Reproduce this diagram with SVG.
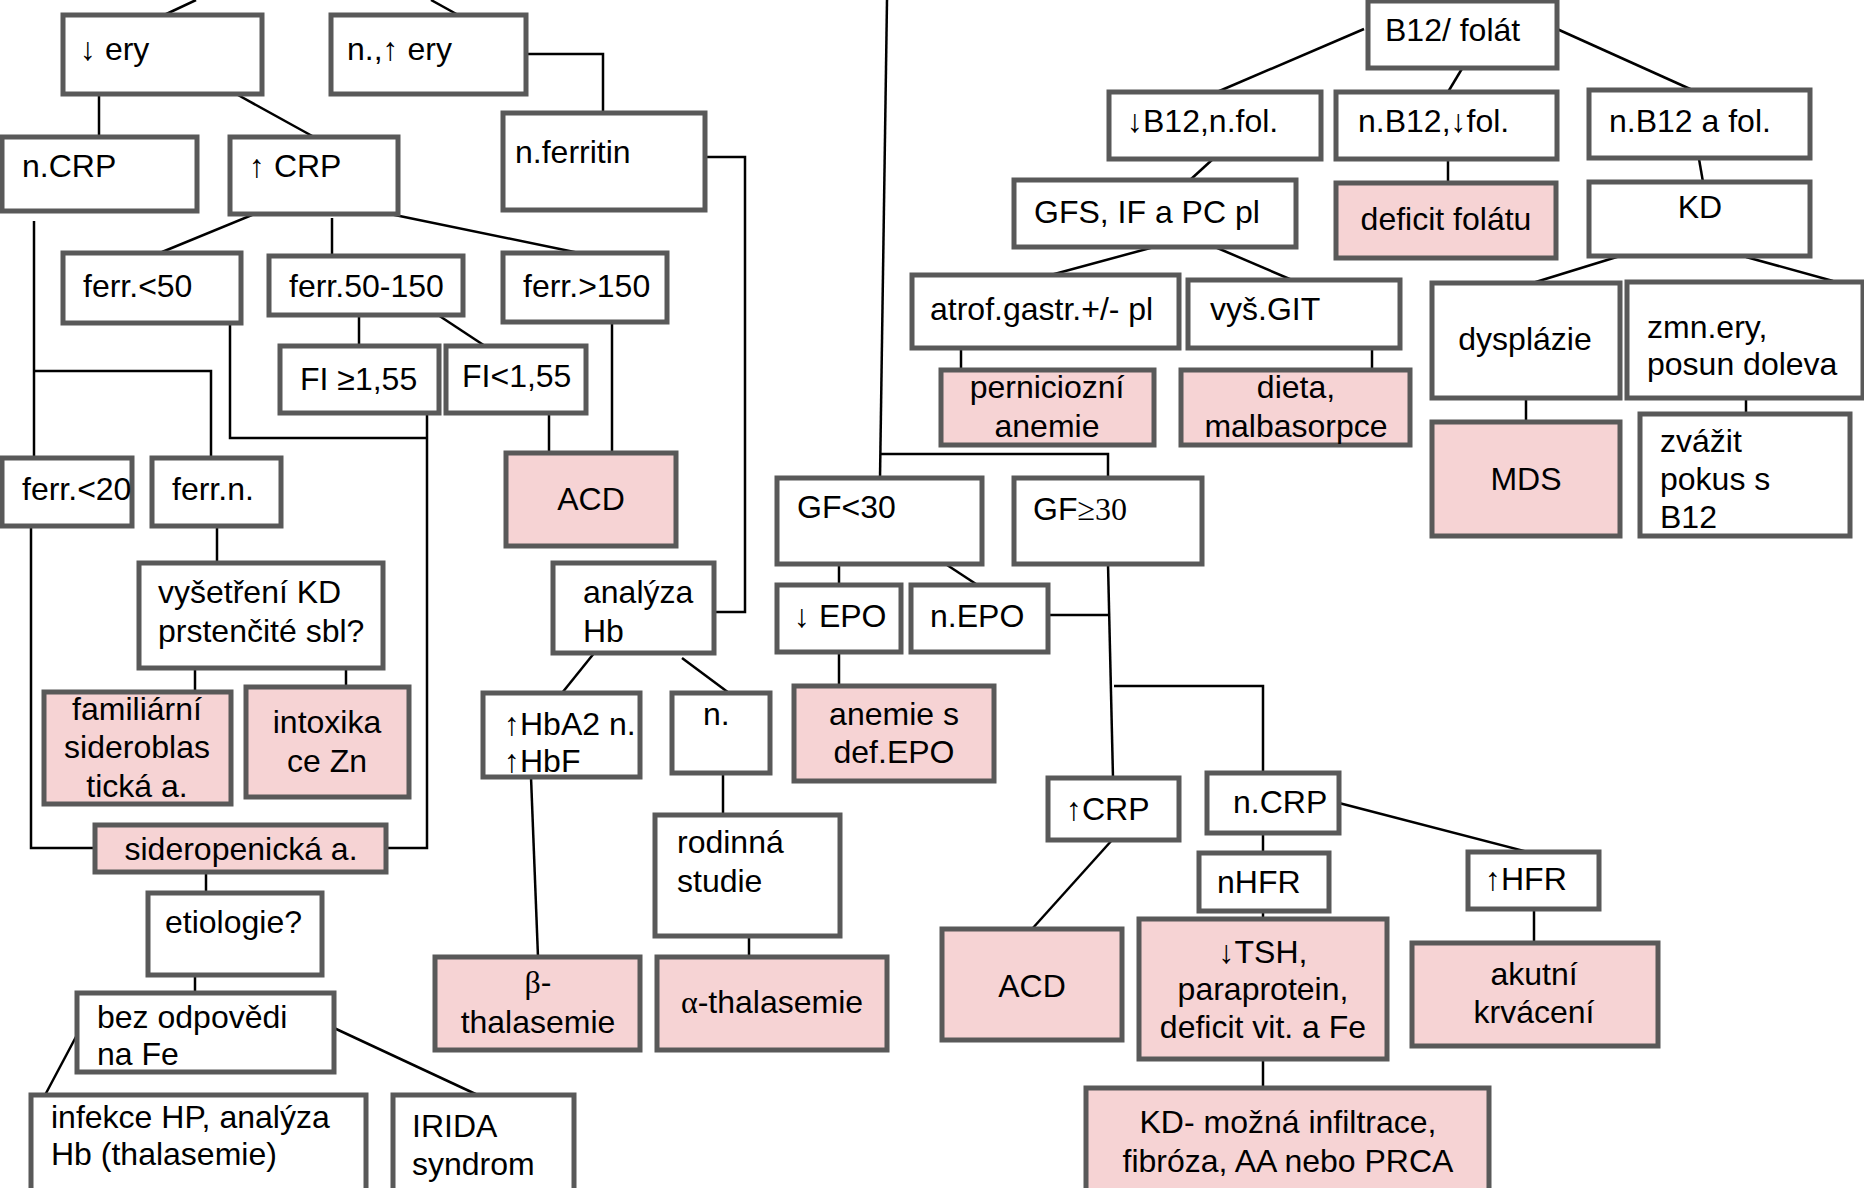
<svg xmlns="http://www.w3.org/2000/svg" width="1864" height="1188" viewBox="0 0 1864 1188">
<style>
rect{stroke:#595959;stroke-width:5}
.b{fill:#ffffff}
.p{fill:#f6d3d4}
text{font-family:"Liberation Sans",Arial,sans-serif;font-size:32px;fill:#000}
.m{text-anchor:middle}
.s{font-family:"Liberation Serif","Times New Roman",serif}
#connectors line,#connectors polyline{stroke:#000;stroke-width:2.5;fill:none}
</style>
<rect x="0" y="0" width="1864" height="1188" fill="#ffffff" style="stroke:none"/>
<g id="connectors">
<line x1="196" y1="0" x2="162" y2="16"/>
<line x1="431" y1="0" x2="460" y2="16"/>
<polyline points="526,54 603,54 603,113"/>
<polyline points="705,157 745,157 745,612 716,612"/>
<line x1="99" y1="94" x2="99" y2="137"/>
<line x1="238" y1="95" x2="314" y2="137"/>
<line x1="34" y1="221" x2="34" y2="458"/>
<polyline points="34,371 211,371 211,458"/>
<line x1="257" y1="213" x2="162" y2="252"/>
<line x1="332" y1="218" x2="332" y2="256"/>
<line x1="385" y1="213" x2="584" y2="254"/>
<line x1="359" y1="313" x2="359" y2="346"/>
<line x1="435" y1="313" x2="485" y2="346"/>
<polyline points="230,323 230,438 427,438"/>
<polyline points="427,413 427,848 386,848"/>
<line x1="549" y1="413" x2="549" y2="453"/>
<line x1="612" y1="322" x2="612" y2="453"/>
<polyline points="31,526 31,848 95,848"/>
<line x1="217" y1="526" x2="217" y2="563"/>
<line x1="195" y1="668" x2="195" y2="692"/>
<line x1="346" y1="668" x2="346" y2="687"/>
<line x1="595" y1="652" x2="562" y2="693"/>
<line x1="682" y1="658" x2="729" y2="693"/>
<line x1="531" y1="777" x2="538" y2="957"/>
<line x1="723" y1="773" x2="723" y2="815"/>
<line x1="206" y1="872" x2="206" y2="893"/>
<line x1="195" y1="975" x2="195" y2="993"/>
<line x1="78" y1="1033" x2="44" y2="1097"/>
<line x1="334" y1="1028" x2="482" y2="1097"/>
<line x1="749" y1="936" x2="749" y2="957"/>
<polyline points="887,0 880,478"/>
<polyline points="880,454 1108,454 1108,478"/>
<line x1="1462" y1="0" x2="1462" y2="3"/>
<line x1="1364" y1="29" x2="1217" y2="92"/>
<line x1="1463" y1="67" x2="1448" y2="92"/>
<line x1="1557" y1="29" x2="1699" y2="93"/>
<line x1="1213" y1="159" x2="1190" y2="180"/>
<line x1="1448" y1="159" x2="1448" y2="183"/>
<line x1="1699" y1="159" x2="1703" y2="182"/>
<line x1="1154" y1="247" x2="1047" y2="276"/>
<line x1="1215" y1="247" x2="1292" y2="280"/>
<line x1="1620" y1="256" x2="1526" y2="285"/>
<line x1="1746" y1="257" x2="1833" y2="281"/>
<line x1="961" y1="348" x2="961" y2="370"/>
<line x1="1372" y1="348" x2="1372" y2="370"/>
<line x1="1526" y1="398" x2="1526" y2="422"/>
<line x1="1746" y1="398" x2="1746" y2="414"/>
<line x1="839" y1="564" x2="839" y2="585"/>
<line x1="944" y1="563" x2="979" y2="586"/>
<line x1="1048" y1="615" x2="1109" y2="615"/>
<line x1="1108" y1="564" x2="1113" y2="778"/>
<polyline points="1114,686 1263,686 1263,773"/>
<line x1="839" y1="652" x2="839" y2="686"/>
<line x1="1113" y1="839" x2="1032" y2="929"/>
<line x1="1263" y1="833" x2="1263" y2="853"/>
<line x1="1339" y1="803" x2="1532" y2="853"/>
<line x1="1263" y1="911" x2="1263" y2="919"/>
<line x1="1534" y1="909" x2="1534" y2="943"/>
<line x1="1263" y1="1059" x2="1263" y2="1088"/>
</g>
<g id="n_ery_down"><rect class="b" x="63" y="15" width="199" height="79"/><text x="80" y="60">↓ ery</text></g>
<g id="n_ery_up"><rect class="b" x="331" y="15" width="195" height="79"/><text x="347" y="60">n.,↑ ery</text></g>
<g id="n_ferritin"><rect class="b" x="503" y="113" width="202" height="97"/><text x="515" y="163">n.ferritin</text></g>
<g id="n_ncrp"><rect class="b" x="2" y="137" width="195" height="74"/><text x="22" y="177">n.CRP</text></g>
<g id="n_upcrp"><rect class="b" x="230" y="137" width="168" height="77"/><text x="249" y="177">↑ CRP</text></g>
<g id="n_ferr50"><rect class="b" x="63" y="253" width="178" height="70"/><text x="83" y="297">ferr.&lt;50</text></g>
<g id="n_ferr50_150"><rect class="b" x="269" y="256" width="194" height="59"/><text x="289" y="297">ferr.50-150</text></g>
<g id="n_ferr150"><rect class="b" x="503" y="253" width="164" height="69"/><text x="523" y="297">ferr.&gt;150</text></g>
<g id="n_fi_ge"><rect class="b" x="280" y="346" width="159" height="67"/><text x="300" y="390">FI ≥1,55</text></g>
<g id="n_fi_lt"><rect class="b" x="446" y="346" width="140" height="67"/><text x="462" y="387">FI&lt;1,55</text></g>
<g id="n_ferr20"><rect class="b" x="2" y="458" width="130" height="68"/><text x="22" y="500">ferr.&lt;20</text></g>
<g id="n_ferrn"><rect class="b" x="152" y="458" width="129" height="68"/><text x="172" y="500">ferr.n.</text></g>
<g id="n_acd1"><rect class="p" x="506" y="453" width="170" height="93"/><text class="m" x="591" y="510">ACD</text></g>
<g id="n_vysetreni"><rect class="b" x="139" y="563" width="244" height="105"/><text x="158" y="603">vyšetření KD</text><text x="158" y="642">prstenčité sbl?</text></g>
<g id="n_analyza"><rect class="b" x="553" y="563" width="161" height="90"/><text x="583" y="603">analýza</text><text x="583" y="642">Hb</text></g>
<g id="n_familiarni"><rect class="p" x="44" y="692" width="187" height="112"/><text class="m" x="137" y="720">familiární</text><text class="m" x="137" y="758">sideroblas</text><text class="m" x="137" y="797">tická a.</text></g>
<g id="n_intoxika"><rect class="p" x="246" y="687" width="163" height="110"/><text class="m" x="327" y="733">intoxika</text><text class="m" x="327" y="772">ce Zn</text></g>
<g id="n_hba2"><rect class="b" x="483" y="693" width="157" height="84"/><text x="504" y="735">↑HbA2 n.</text><text x="504" y="772">↑HbF</text></g>
<g id="n_n"><rect class="b" x="672" y="693" width="98" height="80"/><text x="703" y="725">n.</text></g>
<g id="n_sideropenicka"><rect class="p" x="95" y="825" width="291" height="47"/><text class="m" x="241" y="860">sideropenická a.</text></g>
<g id="n_etiologie"><rect class="b" x="148" y="893" width="174" height="82"/><text x="165" y="933">etiologie?</text></g>
<g id="n_bez"><rect class="b" x="77" y="993" width="257" height="79"/><text x="97" y="1028">bez odpovědi</text><text x="97" y="1065">na Fe</text></g>
<g id="n_infekce"><rect class="b" x="31" y="1095" width="335" height="110"/><text x="51" y="1128">infekce HP, analýza</text><text x="51" y="1165">Hb (thalasemie)</text></g>
<g id="n_irida"><rect class="b" x="393" y="1095" width="181" height="110"/><text x="412" y="1137">IRIDA</text><text x="412" y="1175">syndrom</text></g>
<g id="n_beta"><rect class="p" x="435" y="957" width="205" height="93"/><text class="m" x="538" y="993"><tspan class="s">β</tspan>-</text><text class="m" x="538" y="1033">thalasemie</text></g>
<g id="n_rodinna"><rect class="b" x="655" y="815" width="185" height="121"/><text x="677" y="853">rodinná</text><text x="677" y="892">studie</text></g>
<g id="n_alpha"><rect class="p" x="657" y="957" width="230" height="93"/><text class="m" x="772" y="1013"><tspan class="s">α</tspan>-thalasemie</text></g>
<g id="n_b12folat"><rect class="b" x="1368" y="1" width="189" height="67"/><text x="1385" y="41">B12/ folát</text></g>
<g id="n_b12low"><rect class="b" x="1109" y="92" width="212" height="67"/><text x="1127" y="132">↓B12,n.fol.</text></g>
<g id="n_follow"><rect class="b" x="1336" y="92" width="221" height="67"/><text x="1358" y="132">n.B12,↓fol.</text></g>
<g id="n_b12norm"><rect class="b" x="1589" y="90" width="221" height="68"/><text x="1609" y="132">n.B12 a fol.</text></g>
<g id="n_gfs"><rect class="b" x="1014" y="180" width="282" height="67"/><text x="1034" y="223">GFS, IF a PC pl</text></g>
<g id="n_deficit"><rect class="p" x="1336" y="183" width="220" height="75"/><text class="m" x="1446" y="230">deficit folátu</text></g>
<g id="n_kd"><rect class="b" x="1589" y="182" width="221" height="74"/><text class="m" x="1700" y="218">KD</text></g>
<g id="n_atrof"><rect class="b" x="912" y="275" width="267" height="73"/><text x="930" y="320">atrof.gastr.+/- pl</text></g>
<g id="n_vysgit"><rect class="b" x="1188" y="280" width="212" height="68"/><text x="1210" y="320">vyš.GIT</text></g>
<g id="n_dysplazie"><rect class="b" x="1432" y="283" width="188" height="115"/><text class="m" x="1525" y="350">dysplázie</text></g>
<g id="n_zmn"><rect class="b" x="1627" y="282" width="236" height="116"/><text x="1647" y="338">zmn.ery,</text><text x="1647" y="375">posun doleva</text></g>
<g id="n_pernic"><rect class="p" x="941" y="370" width="213" height="75"/><text class="m" x="1047" y="398">perniciozní</text><text class="m" x="1047" y="437">anemie</text></g>
<g id="n_dieta"><rect class="p" x="1181" y="370" width="229" height="75"/><text class="m" x="1296" y="398">dieta,</text><text class="m" x="1296" y="437">malbasorpce</text></g>
<g id="n_mds"><rect class="p" x="1432" y="422" width="188" height="114"/><text class="m" x="1526" y="490">MDS</text></g>
<g id="n_zvazit"><rect class="b" x="1640" y="414" width="210" height="122"/><text x="1660" y="452">zvážit</text><text x="1660" y="490">pokus s</text><text x="1660" y="528">B12</text></g>
<g id="n_gf30lt"><rect class="b" x="777" y="478" width="205" height="86"/><text x="797" y="518">GF&lt;30</text></g>
<g id="n_gf30ge"><rect class="b" x="1014" y="478" width="188" height="86"/><text x="1033" y="520">GF<tspan class="s">≥30</tspan></text></g>
<g id="n_epolow"><rect class="b" x="777" y="585" width="124" height="67"/><text x="794" y="627">↓ EPO</text></g>
<g id="n_epon"><rect class="b" x="911" y="585" width="137" height="67"/><text x="930" y="627">n.EPO</text></g>
<g id="n_anemie_epo"><rect class="p" x="794" y="686" width="200" height="95"/><text class="m" x="894" y="725">anemie s</text><text class="m" x="894" y="763">def.EPO</text></g>
<g id="n_crp_up2"><rect class="b" x="1048" y="778" width="131" height="62"/><text x="1066" y="820">↑CRP</text></g>
<g id="n_crp_n2"><rect class="b" x="1207" y="773" width="132" height="60"/><text x="1233" y="813">n.CRP</text></g>
<g id="n_nhfr"><rect class="b" x="1199" y="853" width="130" height="58"/><text x="1217" y="893">nHFR</text></g>
<g id="n_hfr_up"><rect class="b" x="1468" y="852" width="131" height="57"/><text x="1485" y="890">↑HFR</text></g>
<g id="n_acd2"><rect class="p" x="942" y="929" width="180" height="111"/><text class="m" x="1032" y="997">ACD</text></g>
<g id="n_tsh"><rect class="p" x="1139" y="919" width="248" height="140"/><text class="m" x="1263" y="963">↓TSH,</text><text class="m" x="1263" y="1000">paraprotein,</text><text class="m" x="1263" y="1038">deficit vit. a Fe</text></g>
<g id="n_akutni"><rect class="p" x="1412" y="943" width="246" height="103"/><text class="m" x="1534" y="985">akutní</text><text class="m" x="1534" y="1023">krvácení</text></g>
<g id="n_kd_mozna"><rect class="p" x="1086" y="1088" width="403" height="115"/><text class="m" x="1288" y="1133">KD- možná infiltrace,</text><text class="m" x="1288" y="1172">fibróza, AA nebo PRCA</text></g>
</svg>
